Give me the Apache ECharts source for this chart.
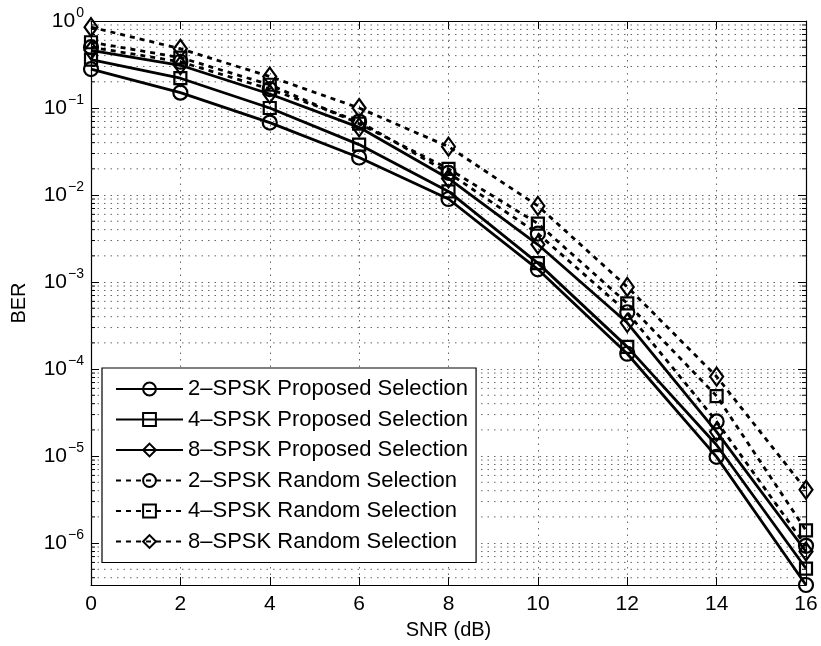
<!DOCTYPE html>
<html><head><meta charset="utf-8">
<script src="https://cdn.jsdelivr.net/npm/echarts@6/dist/echarts.min.js"></script>
<style>html,body{margin:0;padding:0;background:#fff}#c{width:821px;height:646px}</style>
</head><body><div id="c"></div>
<script>
// ---- data ----
const snr = [0, 2, 4, 6, 8, 10, 12, 14, 16];
const ber2P = [0.28, 0.15, 0.068, 0.027, 0.0090, 0.0014, 1.5e-4, 9.8e-6, 3.3e-7];
const ber4P = [0.36, 0.22, 0.10, 0.038, 0.011, 0.00165, 1.8e-4, 1.34e-5, 5.1e-7];
const ber8P = [0.46, 0.31, 0.145, 0.060, 0.0155, 0.0027, 3.4e-4, 1.9e-5, 8.0e-7];
const ber2R = [0.50, 0.34, 0.165, 0.070, 0.018, 0.0036, 4.5e-4, 2.5e-5, 9.3e-7];
const ber4R = [0.57, 0.38, 0.185, 0.066, 0.020, 0.0047, 5.7e-4, 4.9e-5, 1.4e-6];
const ber8R = [0.85, 0.48, 0.23, 0.10, 0.036, 0.0075, 8.8e-4, 8.2e-5, 4.1e-6];
const seriesNames = [
  '2\u2013SPSK Proposed Selection', '4\u2013SPSK Proposed Selection', '8\u2013SPSK Proposed Selection',
  '2\u2013SPSK Random Selection', '4\u2013SPSK Random Selection', '8\u2013SPSK Random Selection'
];
const xTicks = [0, 2, 4, 6, 8, 10, 12, 14, 16];
const yMin = 3.3e-7, yMax = 1;

// minor (2..9 x 10^k) grid positions
const minorVals = [];
for (let k = -7; k <= -1; k++) for (let m = 2; m <= 9; m++) {
  const v = m * Math.pow(10, k);
  if (v > yMin && v < yMax) minorVals.push(v);
}

const FONT = '"Liberation Sans", Arial, Helvetica, sans-serif';
const DIAMOND = 'path://M0,-14L10,0L0,14L-10,0Z';

function mk(name, data, sym, size, dashed) {
  return {
    name, type: 'line', data: snr.map((x, i) => [x, data[i]]),
    symbol: sym, symbolSize: size, showSymbol: true, clip: false, z: 5,
    lineStyle: { color: '#000', width: 2.8, type: dashed ? [5, 5] : 'solid' },
    itemStyle: { color: 'rgba(255,255,255,0)', borderColor: '#000', borderWidth: 2.2 },
    emphasis: { disabled: true }, animation: false
  };
}

const chart = echarts.init(document.getElementById('c'), null, { renderer: 'canvas' });
const gridStroke = { color: '#666', width: 1, type: [1.5, 5] };
chart.setOption({
  animation: false,
  backgroundColor: '#fff',
  textStyle: { fontFamily: FONT },
  grid: { left: 91, right: 15, top: 21, bottom: 61, containLabel: false },
  legend: {
    orient: 'vertical', left: 102, top: 368,
    data: seriesNames,
    backgroundColor: '#fff', borderColor: '#000', borderWidth: 1.2, borderRadius: 0,
    padding: [10, 8, 10, 13],
    itemWidth: 67, itemHeight: 16, itemGap: 8.5, itemTextGap: 7,
    textStyle: { fontSize: 22, color: '#000', fontFamily: FONT },
    selectedMode: false, z: 10
  },
  xAxis: [{
    type: 'value', min: 0, max: 16, interval: 2, position: 'bottom',
    name: 'SNR (dB)', nameLocation: 'middle', nameGap: 35,
    nameTextStyle: { fontSize: 20, color: '#000', fontFamily: FONT },
    axisLine: { show: true, onZero: false, lineStyle: { color: '#000', width: 1.2 } },
    axisTick: { show: true, inside: true, length: 8, lineStyle: { color: '#000' } },
    axisLabel: { fontSize: 21, color: '#000', margin: 9, fontFamily: FONT,
      formatter: v => xTicks.includes(v) ? String(v) : '' },
    splitLine: { show: true, lineStyle: gridStroke }
  }, {
    type: 'value', min: 0, max: 16, interval: 2, position: 'top',
    axisLine: { show: true, onZero: false, lineStyle: { color: '#000', width: 1.2 } },
    axisTick: { show: true, inside: true, length: 8, lineStyle: { color: '#000' } },
    axisLabel: { show: false }, splitLine: { show: false }
  }],
  yAxis: [{
    type: 'log', logBase: 10, min: yMin, max: yMax, splitNumber: 6, position: 'left',
    name: 'BER', nameLocation: 'middle', nameGap: 62, nameRotate: 90,
    nameTextStyle: { fontSize: 20, color: '#000', fontFamily: FONT },
    axisLine: { show: true, onZero: false, lineStyle: { color: '#000', width: 1.2 } },
    axisTick: { show: true, inside: true, length: 8, lineStyle: { color: '#000' } },
    axisLabel: {
      color: '#000', margin: 7, showMinLabel: false,
      formatter: v => {
        const l = Math.log10(v), e = Math.round(l);
        if (Math.abs(l - e) > 0.01) return '';
        return '{b|10}{e|' + (e < 0 ? '\u2212' + (-e) : e) + '}';
      },
      rich: {
        b: { fontSize: 21, fontFamily: FONT, color: '#000', lineHeight: 22 },
        e: { fontSize: 14, fontFamily: FONT, color: '#000', lineHeight: 14, padding: [0, 0, 16, 1] }
      }
    },
    splitLine: { show: true, lineStyle: gridStroke }
  }, {
    type: 'log', logBase: 10, min: yMin, max: yMax, splitNumber: 6, position: 'right',
    axisLine: { show: true, onZero: false, lineStyle: { color: '#000', width: 1.2 } },
    axisTick: { show: true, inside: true, length: 8, lineStyle: { color: '#000' } },
    axisLabel: { show: false }, splitLine: { show: false }
  }],
  series: [
    {
      name: 'minorgrid', type: 'custom', coordinateSystem: 'cartesian2d', silent: true, z: 1,
      data: minorVals.map(v => [0, v]), encode: { x: 0, y: 1 },
      renderItem: (params, api) => {
        const v = api.value(1);
        const a = api.coord([0, v]), b = api.coord([16, v]);
        return { type: 'group', children: [
          { type: 'line', shape: { x1: a[0], y1: a[1], x2: b[0], y2: b[1] },
            style: { stroke: '#666', lineWidth: 1, lineDash: [1.5, 5] } },
          { type: 'line', shape: { x1: a[0], y1: a[1], x2: a[0] + 4, y2: a[1] },
            style: { stroke: '#000', lineWidth: 1 } },
          { type: 'line', shape: { x1: b[0] - 4, y1: b[1], x2: b[0], y2: b[1] },
            style: { stroke: '#000', lineWidth: 1 } }
        ] };
      }
    },
    mk(seriesNames[0], ber2P, 'circle', 14, false),
    mk(seriesNames[1], ber4P, 'rect', 12, false),
    mk(seriesNames[2], ber8P, DIAMOND, [13, 18], false),
    mk(seriesNames[3], ber2R, 'circle', 14, true),
    mk(seriesNames[4], ber4R, 'rect', 12, true),
    mk(seriesNames[5], ber8R, DIAMOND, [13, 18], true)
  ]
});
</script></body></html>
